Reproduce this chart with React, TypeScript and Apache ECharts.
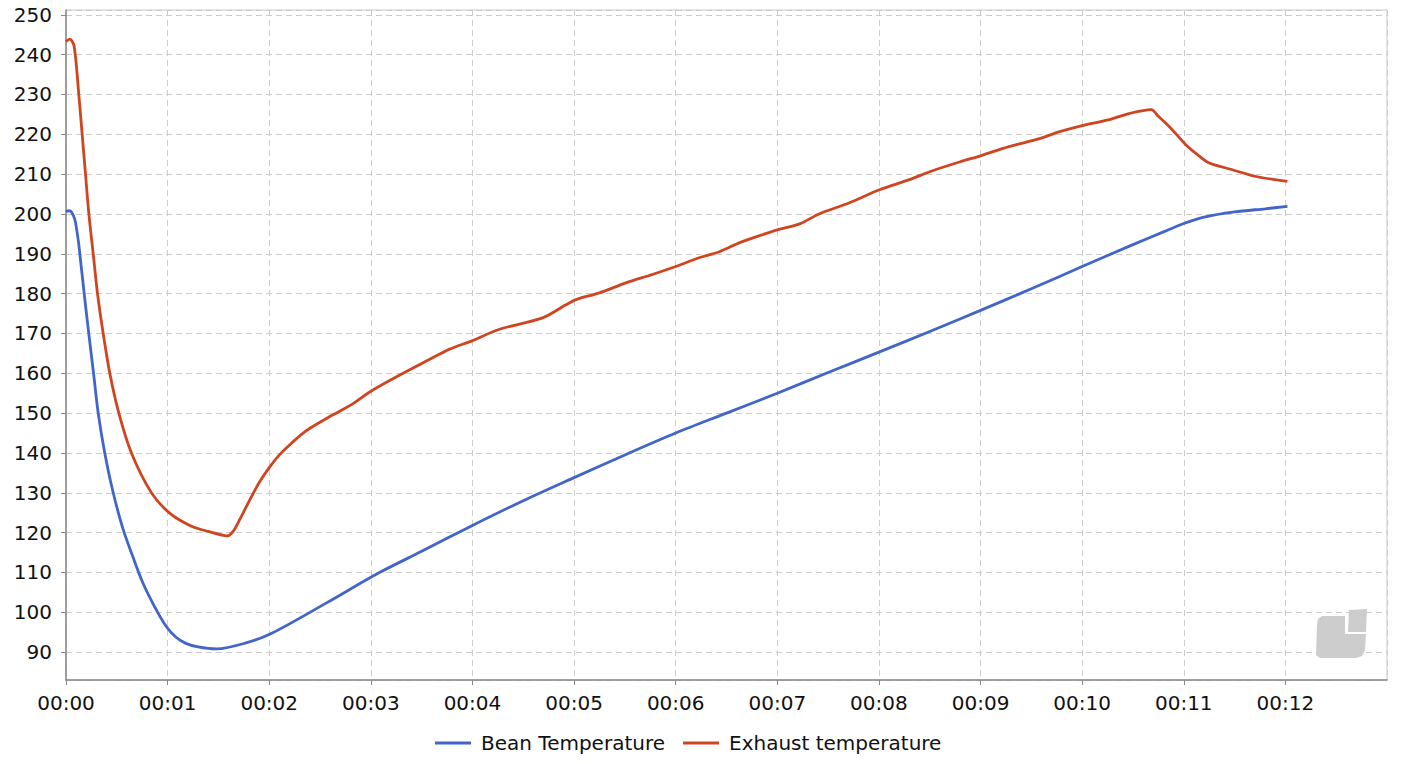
import React, { useEffect, useRef } from "react";
import * as echarts from "echarts";

// time in minutes
const beanTimes = [0, 0.03, 0.054, 0.087, 0.12, 0.136, 0.179, 0.224, 0.271, 0.317, 0.38, 0.46, 0.56, 0.66, 0.756, 0.87, 0.985, 1.08, 1.18, 1.3, 1.48, 1.77, 2.03, 2.56, 3.08, 3.5, 4.0, 4.5, 5.0, 5.5, 6.0, 6.5, 7.0, 7.5, 8.0, 8.5, 9.0, 9.5, 10.0, 10.5, 10.8, 11.0, 11.2, 11.5, 11.8, 12.02];
const beanValues = [200.6, 200.8, 200.5, 198.6, 193.5, 190, 180, 170, 160, 150, 140.2, 130.5, 121, 113.8, 107.4, 101.5, 96.5, 93.8, 92.2, 91.3, 90.8, 92.3, 94.8, 102.3, 109.9, 115.3, 121.8, 128, 133.8, 139.5, 145, 150, 155, 160.2, 165.3, 170.5, 175.8, 181.2, 186.8, 192.3, 195.5, 197.6, 199.2, 200.5, 201.3, 201.9];

const exhaustTimes = [0, 0.037, 0.08, 0.126, 0.159, 0.192, 0.225, 0.274, 0.31, 0.366, 0.431, 0.52, 0.644, 0.841, 1.02, 1.235, 1.4, 1.59, 1.65, 1.71, 1.8, 1.9, 2.0, 2.1, 2.2, 2.3, 2.4, 2.6, 2.8, 3.0, 3.28, 3.58, 3.77, 4.0, 4.26, 4.69, 4.92, 5.02, 5.25, 5.51, 5.77, 6.0, 6.23, 6.43, 6.63, 6.82, 7.0, 7.22, 7.41, 7.71, 8.0, 8.3, 8.5, 8.8, 9.0, 9.28, 9.58, 9.77, 10.0, 10.27, 10.46, 10.68, 10.75, 10.87, 11.02, 11.15, 11.25, 11.48, 11.71, 12.02];
const exhaustValues = [243.3, 243.9, 242.1, 230, 220, 210, 200, 188.5, 180, 170, 160, 150, 140, 130, 124.9, 121.6, 120.3, 119.2, 120.5, 123.3, 127.8, 132.5, 136.3, 139.5, 142, 144.3, 146.2, 149.2, 152, 155.5, 159.5, 163.5, 166, 168.2, 171, 173.9, 177.2, 178.5, 180.2, 182.7, 184.8, 186.8, 189, 190.5, 192.8, 194.5, 196, 197.5, 200, 202.8, 206, 208.6, 210.6, 213.1, 214.6, 216.9, 218.9, 220.6, 222.2, 223.7, 225.2, 226.2, 224.5, 221.6, 217.4, 214.6, 212.8, 211.1, 209.4, 208.2];

const seriesNames = ["Bean Temperature", "Exhaust temperature"];
const seriesColors = ["#4165c8", "#cf4520"];

const FONT = "DejaVu Sans";

function pad(n: number) {
  return n < 10 ? "0" + n : "" + n;
}

export default function App() {
  const ref = useRef<HTMLDivElement>(null);
  useEffect(() => {
    document.body.style.margin = "0";
    if (!ref.current) return;
    const chart = echarts.init(ref.current, null, { renderer: "svg" });
    const beanData = beanTimes.map((t, i) => [t, beanValues[i]]);
    const exhaustData = exhaustTimes.map((t, i) => [t, exhaustValues[i]]);
    chart.setOption({
      animation: false,
      backgroundColor: "#ffffff",
      textStyle: { fontFamily: FONT },
      grid: {
        left: 66,
        right: 17,
        top: 10,
        bottom: 84,
        show: true,
        borderColor: "#c8c8c8",
        borderWidth: 1,
        backgroundColor: "transparent",
      },
      legend: {
        data: seriesNames,
        left: 430,
        top: 728,
        icon: "rect",
        itemWidth: 36,
        itemHeight: 3,
        itemGap: 18,
        textStyle: { fontFamily: FONT, fontSize: 20, color: "#111", padding: [0, 0, 0, 5] },
      },
      xAxis: {
        type: "value",
        min: 0,
        max: 13,
        interval: 1,
        axisLine: { show: true, lineStyle: { color: "#888", width: 1.5 } },
        axisTick: { show: true, length: 5, lineStyle: { color: "#888" } },
        axisLabel: {
          fontFamily: FONT,
          fontSize: 20,
          color: "#111",
          margin: 13,
          showMaxLabel: false,
          formatter: (v: number) => (v >= 13 ? "" : "00:" + pad(Math.round(v))),
        },
        splitLine: { show: true, lineStyle: { color: "#cccccc", type: [6, 4], width: 1 } },
      },
      yAxis: {
        type: "value",
        min: 83,
        max: 251.2,
        minInterval: 10,
        maxInterval: 10,
        axisLine: { show: true, lineStyle: { color: "#888", width: 1.5 } },
        axisTick: { show: true, length: 5, lineStyle: { color: "#888" } },
        axisLabel: {
          fontFamily: FONT,
          fontSize: 20,
          color: "#111",
          margin: 14,
          showMinLabel: false,
          showMaxLabel: false,
          formatter: (v: number) => (Math.abs(v % 10) < 1e-6 ? String(v) : ""),
        },
        splitLine: { show: true, lineStyle: { color: "#cccccc", type: [6, 4], width: 1 } },
      },
      graphic: [
        {
          type: "polygon",
          z: 0,
          shape: {
            points: [
              [1322, 616], [1345, 616], [1345, 634], [1366, 634], [1365, 650],
              [1362, 656], [1356, 658], [1320, 658], [1316, 655], [1317, 624], [1318, 619],
            ],
          },
          style: { fill: "#cdcdcd" },
        },
        {
          type: "polygon",
          z: 0,
          shape: { points: [[1349, 610], [1367, 609], [1366, 632], [1348, 632]] },
          style: { fill: "#cdcdcd" },
        },
      ],
      series: [
        {
          name: seriesNames[0],
          type: "line",
          data: beanData,
          showSymbol: false,
          symbol: "none",
          smooth: 0.3,
          lineStyle: { color: seriesColors[0], width: 2.8 },
          itemStyle: { color: seriesColors[0] },
          z: 3,
        },
        {
          name: seriesNames[1],
          type: "line",
          data: exhaustData,
          showSymbol: false,
          symbol: "none",
          smooth: 0.3,
          lineStyle: { color: seriesColors[1], width: 2.8 },
          itemStyle: { color: seriesColors[1] },
          z: 3,
        },
      ],
    });
    return () => chart.dispose();
  }, []);
  return <div ref={ref} style={{ width: 1404, height: 764 }} />;
}
